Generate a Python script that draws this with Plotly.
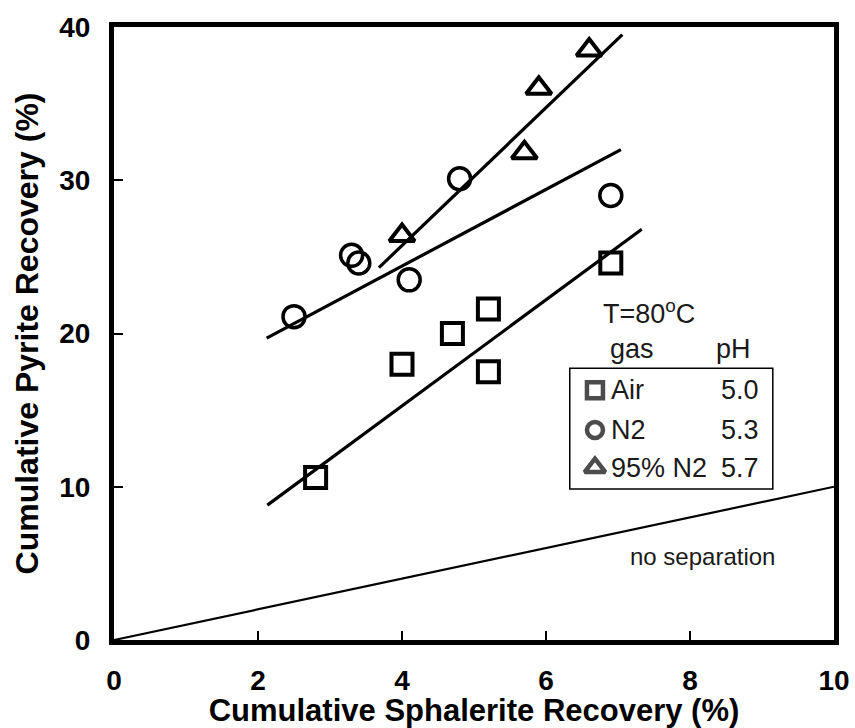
import plotly.graph_objects as go

# ---- data ----
air_x = [2.8, 4.0, 4.7, 5.2, 5.2, 6.9]
air_y = [10.6, 18.0, 20.0, 21.6, 17.5, 24.6]
n2_x = [2.5, 3.3, 3.4, 4.1, 4.8, 6.9]
n2_y = [21.1, 25.1, 24.6, 23.5, 30.1, 29.0]
tri_x = [4.0, 5.7, 5.9, 6.6]
tri_y = [26.4, 31.8, 36.0, 38.5]

air_fit_x = [2.13, 7.33]
air_fit_y = [8.8, 26.8]
n2_fit_x = [2.12, 7.04]
n2_fit_y = [19.7, 32.0]
tri_fit_x = [3.68, 7.06]
tri_fit_y = [24.3, 39.5]
nosep_x = [0, 10]
nosep_y = [0, 10]

legend_gas = ["Air", "N2", "95% N2"]
legend_ph = ["5.0", "5.3", "5.7"]
legend_symbols = ["square-open", "circle-open", "triangle-up-open"]
legend_rows_y = [16.3, 13.7, 11.25]

x_ticks = [0, 2, 4, 6, 8, 10]
y_ticks = [0, 10, 20, 30, 40]

FONT = "Liberation Sans, Arial, sans-serif"

fig = go.Figure()

line_style = dict(color="black", width=3.2)
fig.add_trace(go.Scatter(x=nosep_x, y=nosep_y, mode="lines",
                         line=dict(color="black", width=2.2), showlegend=False))
fig.add_trace(go.Scatter(x=air_fit_x, y=air_fit_y, mode="lines", line=line_style, showlegend=False))
fig.add_trace(go.Scatter(x=n2_fit_x, y=n2_fit_y, mode="lines", line=line_style, showlegend=False))
fig.add_trace(go.Scatter(x=tri_fit_x, y=tri_fit_y, mode="lines", line=line_style, showlegend=False))

fig.add_trace(go.Scatter(x=air_x, y=air_y, mode="markers",
                         marker=dict(color="black", size=21, symbol="square-open",
                                     line=dict(width=4, color="black")), showlegend=False))
fig.add_trace(go.Scatter(x=n2_x, y=n2_y, mode="markers",
                         marker=dict(color="black", size=22, symbol="circle-open",
                                     line=dict(width=3.5, color="black")), showlegend=False))
fig.add_trace(go.Scatter(x=tri_x, y=tri_y, mode="markers",
                         marker=dict(color="black", size=22, symbol="triangle-up-open",
                                     line=dict(width=4, color="black")), showlegend=False))

# legend-like inset
legend_marker_x = 6.68
fig.add_trace(go.Scatter(x=[legend_marker_x] * 3, y=legend_rows_y, mode="markers",
                         marker=dict(color="black", size=[16, 16, 18], symbol=legend_symbols,
                                     line=dict(width=4.5, color="black")),
                         showlegend=False))
fig.add_shape(type="rect", x0=6.33, x1=9.15, y0=9.85, y1=17.74,
              line=dict(color="black", width=1.5), fillcolor="rgba(0,0,0,0)")

ann_font = dict(family=FONT, size=27, color="#1a1a1a")
for g, p, yv in zip(legend_gas, legend_ph, legend_rows_y):
    fig.add_annotation(x=6.88, y=yv, text=g, showarrow=False, xanchor="left",
                       yanchor="middle", font=ann_font)
    fig.add_annotation(x=8.98, y=yv, text=p, showarrow=False, xanchor="right",
                       yanchor="middle", font=ann_font)
fig.add_annotation(x=6.77, y=21.4, text="T=80<sup>o</sup>C", showarrow=False,
                   xanchor="left", yanchor="middle", font=ann_font)
fig.add_annotation(x=7.19, y=19.0, text="gas", showarrow=False,
                   xanchor="center", yanchor="middle", font=ann_font)
fig.add_annotation(x=8.6, y=19.0, text="pH", showarrow=False,
                   xanchor="center", yanchor="middle", font=ann_font)
fig.add_annotation(x=7.14, y=5.45, text="no separation", showarrow=False,
                   xanchor="left", yanchor="middle",
                   font=dict(family=FONT, size=24, color="#1a1a1a"))

axis_common = dict(showgrid=False, zeroline=False, showline=True, linecolor="black",
                   linewidth=5, mirror=True, ticks="inside", ticklen=9, tickwidth=1.6,
                   tickcolor="black", automargin=False,
                   tickfont=dict(family=FONT, size=28, color="black", weight="bold"))

fig.update_layout(
    width=855, height=728,
    margin=dict(l=114, r=21, t=27, b=88),
    paper_bgcolor="white", plot_bgcolor="white",
    xaxis=dict(axis_common, range=[0, 10], tickvals=x_ticks, ticklabelstandoff=11,
               title=dict(text="<b>Cumulative Sphalerite Recovery (%)</b>",
                          font=dict(family=FONT, size=31, color="black"), standoff=2)),
    yaxis=dict(axis_common, range=[0, 40], tickvals=y_ticks, ticklabelstandoff=13,
               title=dict(text="<b>Cumulative Pyrite Recovery (%)</b>",
                          font=dict(family=FONT, size=32, color="black"), standoff=13)),
)

fig.write_html("out.html")
